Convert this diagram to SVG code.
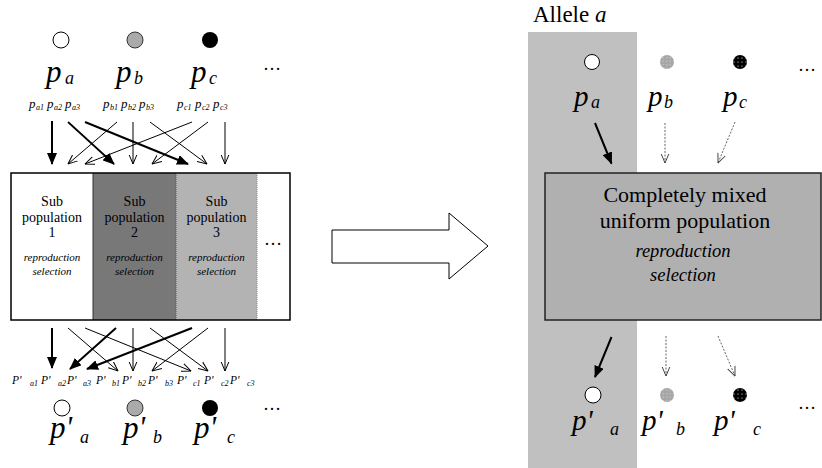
<svg xmlns="http://www.w3.org/2000/svg" width="822" height="468" viewBox="0 0 822 468">
<style>
text{font-family:"Liberation Serif","Times New Roman",serif;fill:#000}
.it{font-style:italic}
.big{font-size:31px;font-style:italic}
.bigs{font-size:18px;font-style:italic}
.rbig{font-size:29px;font-style:italic}
.rbigs{font-size:18px;font-style:italic}
.sm{font-size:13px;font-style:italic}
.sms{font-size:8px;font-style:italic}
.box{font-size:14px}
.boxi{font-size:11px;font-style:italic}
.dots{font-size:18px}
.thin{stroke:#000;stroke-width:1;fill:none;marker-end:url(#open)}
.thick{stroke:#000;stroke-width:2;fill:none;marker-end:url(#filled)}
.dash{stroke:#555;stroke-width:0.9;stroke-dasharray:2 1.5;fill:none;marker-end:url(#openg)}
</style>
<defs>
<marker id="filled" viewBox="0 0 12 10" refX="11" refY="5" markerWidth="12" markerHeight="10" markerUnits="userSpaceOnUse" orient="auto">
<path d="M0,0 L12,5 L0,10 z" fill="#000"/>
</marker>
<marker id="open" viewBox="0 0 10 10" refX="9.5" refY="5" markerWidth="10" markerHeight="10" markerUnits="userSpaceOnUse" orient="auto">
<path d="M0,1 L9.5,5 L0,9" fill="none" stroke="#000" stroke-width="1"/>
</marker>
<marker id="openg" viewBox="0 0 10 10" refX="9.5" refY="5" markerWidth="10" markerHeight="10" markerUnits="userSpaceOnUse" orient="auto">
<path d="M0,1 L9.5,5 L0,9" fill="none" stroke="#444" stroke-width="1"/>
</marker>
<pattern id="dotG" width="3.5" height="3.5" patternUnits="userSpaceOnUse">
<rect width="3.5" height="3.5" fill="#a6a6a6"/>
<circle cx="1.75" cy="1.75" r="0.6" fill="#d8d8d8"/>
</pattern>
<pattern id="dotK" width="4" height="4" patternUnits="userSpaceOnUse">
<rect width="4" height="4" fill="#000"/>
<circle cx="2" cy="2" r="0.6" fill="#fff"/>
</pattern>
</defs>

<rect id="allele-column" x="528" y="32" width="109" height="436" fill="#c0c0c0"/>

<g id="left-top-alleles">
<circle cx="61" cy="40" r="8" fill="#fff" stroke="#000" stroke-width="1"/>
<circle cx="135" cy="40" r="8" fill="#aaa" stroke="#333" stroke-width="1"/>
<circle cx="210" cy="40" r="8" fill="#000"/>
<text class="big" x="46" y="82">p</text><text class="bigs" x="65" y="84">a</text>
<text class="big" x="116" y="82">p</text><text class="bigs" x="134" y="84">b</text>
<text class="big" x="191" y="82">p</text><text class="bigs" x="209" y="84">c</text>
<text class="dots" x="263" y="70">…</text>
</g>

<g id="left-top-labels">
<text class="sm" x="29" y="108">p</text><text class="sms" x="36" y="110">a1</text>
<text class="sm" x="47" y="108">p</text><text class="sms" x="54" y="110">a2</text>
<text class="sm" x="65" y="108">p</text><text class="sms" x="72" y="110">a3</text>
<text class="sm" x="103" y="108">p</text><text class="sms" x="110" y="110">b1</text>
<text class="sm" x="121" y="108">p</text><text class="sms" x="128" y="110">b2</text>
<text class="sm" x="139" y="108">p</text><text class="sms" x="146" y="110">b3</text>
<text class="sm" x="177" y="108">p</text><text class="sms" x="184" y="110">c1</text>
<text class="sm" x="195" y="108">p</text><text class="sms" x="202" y="110">c2</text>
<text class="sm" x="213" y="108">p</text><text class="sms" x="220" y="110">c3</text>
</g>

<g id="subpopulations">
<rect x="11" y="173" width="82" height="147" fill="#fff"/>
<rect x="93" y="173" width="83" height="147" fill="#787878"/>
<rect x="176" y="173" width="81" height="147" fill="#b3b3b3"/>
<rect x="257" y="173" width="33" height="147" fill="#fff"/>
<line x1="93" y1="173" x2="93" y2="320" stroke="#333" stroke-width="1"/>
<line x1="176" y1="173" x2="176" y2="320" stroke="#555" stroke-width="1" stroke-dasharray="1 1"/>
<line x1="257" y1="173" x2="257" y2="320" stroke="#888" stroke-width="1" stroke-dasharray="1 1"/>
<rect x="11" y="173" width="279" height="147" fill="none" stroke="#000" stroke-width="1.5"/>
<g text-anchor="middle">
<text class="box" x="52" y="206">Sub</text>
<text class="box" x="52" y="222">population</text>
<text class="box" x="52" y="237">1</text>
<text class="boxi" x="52" y="261">reproduction</text>
<text class="boxi" x="52" y="275">selection</text>
<text class="box" x="134.5" y="206">Sub</text>
<text class="box" x="134.5" y="222">population</text>
<text class="box" x="134.5" y="237">2</text>
<text class="boxi" x="134.5" y="261">reproduction</text>
<text class="boxi" x="134.5" y="275">selection</text>
<text class="box" x="216.5" y="206">Sub</text>
<text class="box" x="216.5" y="222">population</text>
<text class="box" x="216.5" y="237">3</text>
<text class="boxi" x="216.5" y="261">reproduction</text>
<text class="boxi" x="216.5" y="275">selection</text>
</g>
<text class="dots" x="264" y="245">…</text>
</g>

<g id="left-bottom-labels">
<text class="sm" style="font-size:11.5px" y="384"><tspan x="12">P'</tspan><tspan x="30" dy="2" class="sms">a1</tspan></text>
<text class="sm" style="font-size:11.5px" y="384"><tspan x="41">P'</tspan><tspan x="58" dy="2" class="sms">a2</tspan></text>
<text class="sm" style="font-size:11.5px" y="384"><tspan x="67">P'</tspan><tspan x="83" dy="2" class="sms">a3</tspan></text>
<text class="sm" style="font-size:11.5px" y="384"><tspan x="96">P'</tspan><tspan x="112" dy="2" class="sms">b1</tspan></text>
<text class="sm" style="font-size:11.5px" y="384"><tspan x="122">P'</tspan><tspan x="138" dy="2" class="sms">b2</tspan></text>
<text class="sm" style="font-size:11.5px" y="384"><tspan x="148">P'</tspan><tspan x="165" dy="2" class="sms">b3</tspan></text>
<text class="sm" style="font-size:11.5px" y="384"><tspan x="177">P'</tspan><tspan x="193" dy="2" class="sms">c1</tspan></text>
<text class="sm" style="font-size:11.5px" y="384"><tspan x="204">P'</tspan><tspan x="221" dy="2" class="sms">c2</tspan></text>
<text class="sm" style="font-size:11.5px" y="384"><tspan x="230">P'</tspan><tspan x="247" dy="2" class="sms">c3</tspan></text>
</g>

<g id="left-bottom-alleles">
<circle cx="62" cy="408" r="8" fill="#fff" stroke="#000" stroke-width="1"/>
<circle cx="135" cy="408" r="8" fill="#aaa" stroke="#333" stroke-width="1"/>
<circle cx="210" cy="408" r="8" fill="#000"/>
<text class="big" x="50" y="438">p'</text><text class="bigs" x="80" y="443">a</text>
<text class="big" x="123" y="438">p'</text><text class="bigs" x="153" y="443">b</text>
<text class="big" x="194" y="438">p'</text><text class="bigs" x="227" y="443">c</text>
<text class="dots" x="263" y="410">…</text>
</g>

<g id="transform-arrow">
<polygon points="332,230 449,230 449,213 488,246 449,279 449,263 332,263" fill="#fff" stroke="#000" stroke-width="1"/>
</g>

<g id="right-top-alleles">
<text x="533" y="22" style="font-size:23px">Allele <tspan class="it">a</tspan></text>
<circle cx="592" cy="62" r="7.5" fill="#fff" stroke="#000" stroke-width="1"/>
<circle cx="667" cy="62" r="7" fill="url(#dotG)"/>
<circle cx="740" cy="62" r="7" fill="url(#dotK)"/>
<text class="rbig" x="574" y="106">p</text><text class="rbigs" x="591" y="108">a</text>
<text class="rbig" x="648" y="106">p</text><text class="rbigs" x="664" y="108">b</text>
<text class="rbig" x="723" y="106">p</text><text class="rbigs" x="739" y="108">c</text>
<text class="dots" x="798" y="71">…</text>
</g>

<g id="mixed-population">
<rect x="545" y="173" width="276" height="147" fill="#b0b0b0" stroke="#222" stroke-width="1.5"/>
<g text-anchor="middle">
<text x="685" y="202" style="font-size:22px">Completely mixed</text>
<text x="685" y="228" style="font-size:22px">uniform population</text>
<text x="683" y="257" class="it" style="font-size:18.5px">reproduction</text>
<text x="683" y="281" class="it" style="font-size:18.5px">selection</text>
</g>
</g>

<g id="right-bottom-alleles">
<circle cx="593" cy="395" r="8" fill="#fff" stroke="#000" stroke-width="1"/>
<circle cx="667" cy="395" r="7" fill="url(#dotG)"/>
<circle cx="740" cy="395" r="7" fill="url(#dotK)"/>
<text class="rbig" x="572" y="430">p'</text><text class="rbigs" x="610" y="435">a</text>
<text class="rbig" x="642" y="430">p'</text><text class="rbigs" x="676" y="435">b</text>
<text class="rbig" x="714" y="430">p'</text><text class="rbigs" x="753" y="435">c</text>
<text class="dots" x="798" y="409">…</text>
</g>

<g id="connectors">
<line class="thick" x1="52" y1="121" x2="52" y2="164"/>
<line class="thick" style="stroke-width:1.7" x1="68" y1="122" x2="114" y2="164"/>
<line class="thick" x1="85" y1="122" x2="188" y2="164"/>
<line class="thin" x1="117" y1="122" x2="68" y2="164"/>
<line class="thin" x1="133" y1="122" x2="133" y2="164"/>
<line class="thin" x1="150" y1="122" x2="207" y2="164"/>
<line class="thin" x1="192" y1="122" x2="85" y2="164"/>
<line class="thin" x1="208" y1="122" x2="152" y2="164"/>
<line class="thin" x1="225" y1="122" x2="225" y2="164"/>

<line class="thick" x1="52" y1="328" x2="52" y2="368"/>
<line class="thin" x1="68" y1="328" x2="118" y2="371"/>
<line class="thin" x1="85" y1="328" x2="191" y2="371"/>
<line class="thick" x1="116" y1="328" x2="70" y2="369"/>
<line class="thin" x1="133" y1="328" x2="133" y2="371"/>
<line class="thin" x1="150" y1="328" x2="208" y2="371"/>
<line class="thick" x1="192" y1="328" x2="87" y2="369"/>
<line class="thin" x1="208" y1="328" x2="152" y2="371"/>
<line class="thin" x1="225" y1="328" x2="225" y2="371"/>

<line class="thick" x1="595" y1="123" x2="611.5" y2="163.5"/>
<line class="dash" x1="665" y1="123" x2="665" y2="163"/>
<line class="dash" x1="735" y1="122" x2="718" y2="163"/>
<line class="thick" x1="611.5" y1="337" x2="595" y2="377"/>
<line class="dash" x1="666" y1="336" x2="666" y2="376"/>
<line class="dash" x1="718" y1="336" x2="735" y2="376"/>
</g>
</svg>
